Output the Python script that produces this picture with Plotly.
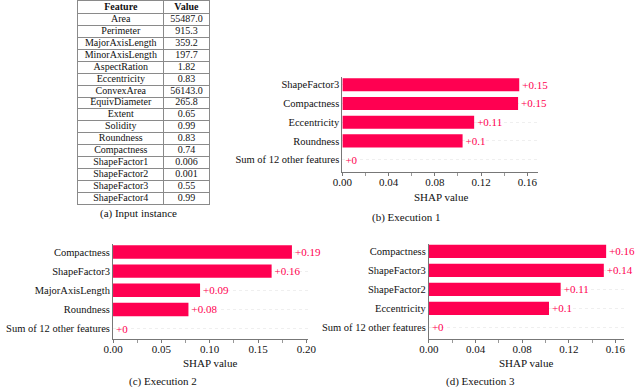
import plotly.graph_objects as go

# input instance table
table_features = ["Area", "Perimeter", "MajorAxisLength", "MinorAxisLength", "AspectRation",
                  "Eccentricity", "ConvexArea", "EquivDiameter", "Extent", "Solidity",
                  "Roundness", "Compactness", "ShapeFactor1", "ShapeFactor2", "ShapeFactor3",
                  "ShapeFactor4"]
table_values = ["55487.0", "915.3", "359.2", "197.7", "1.82", "0.83", "56143.0", "265.8",
                "0.65", "0.99", "0.83", "0.74", "0.006", "0.001", "0.55", "0.99"]
table_header = ["Feature", "Value"]

# execution 1
exec1_features = ["ShapeFactor3", "Compactness", "Eccentricity", "Roundness", "Sum of 12 other features"]
exec1_values = [0.153, 0.152, 0.114, 0.104, 0.0]
exec1_labels = ["+0.15", "+0.15", "+0.11", "+0.1", "+0"]

# execution 2
exec2_features = ["Compactness", "ShapeFactor3", "MajorAxisLength", "Roundness", "Sum of 12 other features"]
exec2_values = [0.185, 0.164, 0.090, 0.078, 0.0]
exec2_labels = ["+0.19", "+0.16", "+0.09", "+0.08", "+0"]

# execution 3
exec3_features = ["Compactness", "ShapeFactor3", "ShapeFactor2", "Eccentricity", "Sum of 12 other features"]
exec3_values = [0.152, 0.150, 0.113, 0.103, 0.0]
exec3_labels = ["+0.16", "+0.14", "+0.11", "+0.1", "+0"]

W, H = 640, 387
RED = "#ff0051"
FONT = "Liberation Serif"
col_w = [88, 47]


def px_x(v):
    return v / W


def px_y(v):
    return 1 - v / H


fig = go.Figure()

# table drawn on its own axes: grid lines are the cell borders
n_rows = len(table_features) + 1
rows = [i + 1.5 for i in range(len(table_features))]
col_mid = [col_w[0] / 2, col_w[0] + col_w[1] / 2]
tfont = dict(family=FONT, size=10, color="#111")
fig.add_trace(go.Scatter(x=[col_mid[0]] * len(rows), y=rows, text=table_features, mode="text",
                         textfont=tfont, xaxis="x4", yaxis="y4", showlegend=False, hoverinfo="skip"))
fig.add_trace(go.Scatter(x=[col_mid[1]] * len(rows), y=rows, text=table_values, mode="text",
                         textfont=tfont, xaxis="x4", yaxis="y4", showlegend=False, hoverinfo="skip"))
fig.add_trace(go.Scatter(x=col_mid, y=[0.5, 0.5], text=["<b>%s</b>" % h for h in table_header],
                         mode="text", textfont=tfont, xaxis="x4", yaxis="y4",
                         showlegend=False, hoverinfo="skip"))
fig.update_layout(
    xaxis4=dict(domain=[px_x(70), px_x(205)], range=[0, sum(col_w)], anchor="y4",
                tickvals=[col_w[0]], showticklabels=False, ticks="", showgrid=True,
                gridcolor="#8a8a8a", gridwidth=1, zeroline=False, showline=True, mirror=True,
                linecolor="#8a8a8a", linewidth=1, fixedrange=True),
    yaxis4=dict(domain=[px_y(204), px_y(0.5)], range=[n_rows, 0], anchor="x4",
                tickvals=list(range(1, n_rows)), showticklabels=False, ticks="", showgrid=True,
                gridcolor="#8a8a8a", gridwidth=1, zeroline=False, showline=True, mirror=True,
                linecolor="#8a8a8a", linewidth=1, fixedrange=True),
)

panels = [
    # features, values, labels, x px [l, r], y px [top, bottom], xmax, dtick, yrange bottom
    (exec1_features, exec1_values, exec1_labels, [342, 543], [76.5, 171], 0.169, 0.04, 4.64),
    (exec2_features, exec2_values, exec2_labels, [106, 307], [244, 339], 0.202, 0.05, 4.55),
    (exec3_features, exec3_values, exec3_labels, [431, 632], [243.5, 338.5], 0.1675, 0.04, 4.6),
]

for i, (feats, vals, labels, xp, yp, xmax, dt, ybot) in enumerate(panels, start=1):
    sfx = "" if i == 1 else str(i)
    fig.add_trace(go.Bar(
        x=vals, y=feats, orientation="h", width=0.7,
        marker=dict(color=RED, line=dict(width=0)),
        text=labels, textposition="outside", constraintext="none", cliponaxis=False,
        textfont=dict(family=FONT, size=11, color=RED),
        xaxis="x" + sfx, yaxis="y" + sfx, showlegend=False,
    ))
    fig.layout["xaxis" + sfx] = dict(
        domain=[px_x(xp[0]), px_x(xp[1])], range=[0, xmax], anchor="y" + sfx,
        tickvals=[k * dt for k in range(int(xmax / dt + 1e-9) + 1)], tickformat=".2f",
        ticks="outside", ticklen=3, tickcolor="#777", showline=True, linecolor="#777",
        linewidth=1, showgrid=False, zeroline=False, ticklabelstandoff=-3,
        minor=dict(dtick=dt / 2, tick0=0, ticks="outside", ticklen=3, tickcolor="#999", showgrid=False),
        tickfont=dict(family=FONT, size=11, color="#111"),
    )
    fig.layout["yaxis" + sfx] = dict(
        domain=[px_y(yp[1]), px_y(yp[0])], range=[ybot, -0.4], anchor="x" + sfx,
        type="category", categoryorder="array", categoryarray=feats,
        showline=True, linecolor="#777", linewidth=1, ticks="",
        showgrid=True, gridcolor="#efefef", gridwidth=0.5, griddash="dot", zeroline=False,
        tickfont=dict(family=FONT, size=10.5, color="#111"),
    )

annots = [
    ("(a) Input instance", 132, 213),
    ("(b) Execution 1", 407, 217),
    ("SHAP value", 443, 197),
    ("(c) Execution 2", 157, 381),
    ("SHAP value", 206, 363),
    ("(d) Execution 3", 484, 381),
    ("SHAP value", 531, 363),
]
for txt, x, y in annots:
    fig.add_annotation(text=txt, x=px_x(x), y=px_y(y), xref="paper", yref="paper",
                       xanchor="center", yanchor="middle", showarrow=False,
                       font=dict(family=FONT, size=11, color="#111"))

fig.update_layout(
    width=W, height=H, autosize=False,
    margin=dict(l=0, r=0, t=0, b=0),
    paper_bgcolor="white", plot_bgcolor="white",
    font=dict(family=FONT),
    bargap=0.3,
)

# drop the default 8px page margin so the figure fills the window
fig.write_html("out.html", config={"displayModeBar": False},
               post_script="document.body.style.margin='0';")
